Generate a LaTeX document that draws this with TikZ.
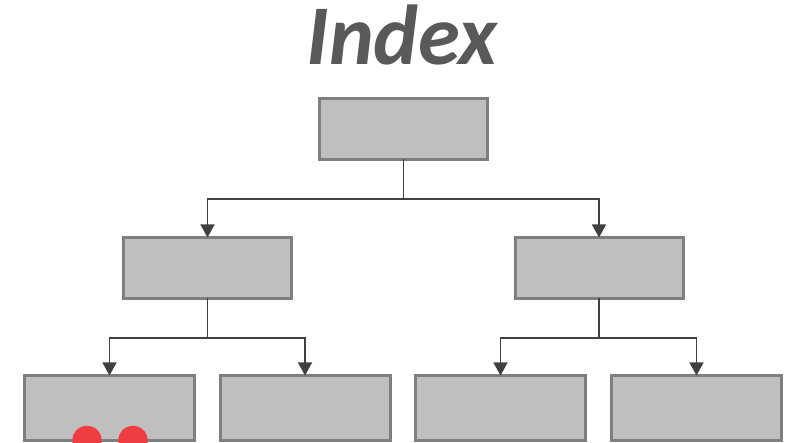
\documentclass[tikz,border=0pt]{standalone}
\usepackage{fontspec}
\setmainfont{Carlito}
\usetikzlibrary{arrows.meta}
\definecolor{boxfill}{HTML}{BFBFBF}
\definecolor{boxline}{HTML}{7F7F7F}
\definecolor{arrowc}{HTML}{404040}
\definecolor{titlec}{HTML}{595959}
\definecolor{dotred}{HTML}{EF3E42}
\tikzset{
  treebox/.style={draw=boxline, fill=boxfill, line width=3pt, minimum width=168pt, minimum height=61pt, inner sep=0pt, outer sep=0pt},
  leafbox/.style={treebox, minimum width=170pt, minimum height=65pt},
  stem/.style={draw=arrowc, line width=1.4pt},
  conn/.style={stem, -{Triangle[length=13pt,width=14pt]}}
}
\begin{document}
\begin{tikzpicture}[x=1pt,y=-1pt]
\useasboundingbox (0,0) rectangle (795,443);
\node[anchor=base, text=titlec, font=\fontsize{85}{95}\selectfont\bfseries\itshape] (title) at (402,65) {Index};
\node[treebox] (root) at (403.5,129) {};
\node[treebox] (ml) at (207.5,268) {};
\node[treebox] (mr) at (599,268) {};
\node[leafbox] (l1) at (109.5,408) {};
\node[leafbox] (l2) at (305,408) {};
\node[leafbox] (l3) at (500.5,408) {};
\node[leafbox] (l4) at (696.5,408) {};
\coordinate (j0) at (403.5,199);
\coordinate (j1) at (207.5,338);
\coordinate (j2) at (599,338);
\draw[stem] (root.south) -- (j0);
\draw[conn] (j0) -| (ml.north);
\draw[conn] (j0) -| (mr.north);
\draw[stem] (ml.south) -- (j1);
\draw[conn] (j1) -| (l1.north);
\draw[conn] (j1) -| (l2.north);
\draw[stem] (mr.south) -- (j2);
\draw[conn] (j2) -| (l3.north);
\draw[conn] (j2) -| (l4.north);
\fill[dotred] (87,440.5) circle (14.7);
\fill[dotred] (133,440.5) circle (14.7);
\end{tikzpicture}
\end{document}
